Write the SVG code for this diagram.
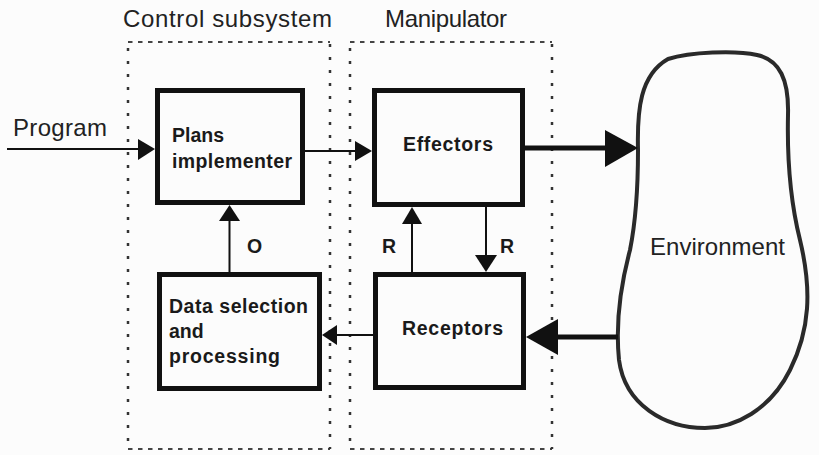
<svg xmlns="http://www.w3.org/2000/svg" width="819" height="455" viewBox="0 0 819 455">
<style>
.title{font-family:"Liberation Sans",Arial,sans-serif;font-size:24px;fill:#222}
.lbl{font-family:"Liberation Sans",Arial,sans-serif;font-size:19.5px;font-weight:bold;fill:#1a1a1a}
.box{fill:none;stroke:#111;stroke-width:5}
.hd{stroke:#444;stroke-width:2;stroke-dasharray:4.5 5.5;fill:none}
.vd{stroke:#333;stroke-width:2.5;stroke-dasharray:3 10;fill:none}
.thin{stroke:#111;stroke-width:2;fill:none}
.thick{stroke:#111;stroke-width:5;fill:none}
.ah{fill:#111}
</style>
<rect width="819" height="455" fill="#fcfcfc"/>
<g id="control-subsystem">
<line class="hd" x1="128" y1="42" x2="330" y2="42"/>
<line class="hd" x1="128" y1="449" x2="330" y2="449"/>
<line class="vd" x1="128" y1="48" x2="128" y2="446"/>
<line class="vd" x1="330" y1="44" x2="330" y2="449"/>
<text class="title" x="123" y="27" textLength="209" lengthAdjust="spacing">Control subsystem</text>
</g>
<g id="manipulator">
<line class="hd" x1="350" y1="42" x2="552" y2="42"/>
<line class="hd" x1="350" y1="449" x2="552" y2="449"/>
<line class="vd" x1="350" y1="48" x2="350" y2="446"/>
<line class="vd" x1="552" y1="44" x2="552" y2="449"/>
<text class="title" x="385" y="27" textLength="122" lengthAdjust="spacing">Manipulator</text>
</g>
<g id="plans-implementer">
<rect class="box" x="157.5" y="90.5" width="145" height="112"/>
<text class="lbl" x="172" y="142">Plans</text>
<text class="lbl" x="172" y="168" textLength="120" lengthAdjust="spacing">implementer</text>
</g>
<g id="effectors">
<rect class="box" x="374.5" y="90.5" width="148" height="114"/>
<text class="lbl" x="403" y="151" textLength="90" lengthAdjust="spacing">Effectors</text>
</g>
<g id="data-selection">
<rect class="box" x="159.5" y="274.5" width="160" height="114"/>
<text class="lbl" x="169" y="313" textLength="139" lengthAdjust="spacing">Data selection</text>
<text class="lbl" x="169" y="338">and</text>
<text class="lbl" x="169" y="363" textLength="111" lengthAdjust="spacing">processing</text>
</g>
<g id="receptors">
<rect class="box" x="375.5" y="274.5" width="148" height="113"/>
<text class="lbl" x="402" y="335" textLength="101" lengthAdjust="spacing">Receptors</text>
</g>
<g id="environment">
<path d="M638,150 C637,110 640,75 668,59 C690,52 735,50 757,55 C780,60 789,80 788,115 C787,160 790,200 800,240 C812,290 810,330 790,370 C770,410 735,428 705,428 C665,428 625,405 619,360 C615,320 622,280 630,250 C636,220 638,190 638,150 Z" fill="none" stroke="#2a2a2a" stroke-width="4"/>
<text class="title" x="650" y="255" textLength="135" lengthAdjust="spacing">Environment</text>
</g>
<g id="connectors">
<text class="title" x="13" y="136" textLength="94" lengthAdjust="spacing">Program</text>
<line class="thin" x1="7" y1="149" x2="140" y2="149"/>
<polygon class="ah" points="138,139 155,149 138,160"/>
<line class="thin" x1="305" y1="151" x2="357" y2="151"/>
<polygon class="ah" points="355,141 372,151 355,161"/>
<line class="thick" x1="525" y1="148" x2="607" y2="148"/>
<polygon class="ah" points="605,130 638,148 605,167"/>
<line class="thick" x1="618" y1="337" x2="556" y2="337"/>
<polygon class="ah" points="558,319 526,337 558,355"/>
<line class="thin" x1="373" y1="335" x2="335" y2="335"/>
<polygon class="ah" points="337,325 322,335 337,345"/>
<line class="thin" x1="229.5" y1="272" x2="229.5" y2="218"/>
<polygon class="ah" points="219,221 229.5,205 240,221"/>
<text class="lbl" x="247" y="253">O</text>
<line class="thin" x1="412" y1="272" x2="412" y2="222"/>
<polygon class="ah" points="402,224 412,207 422,224"/>
<text class="lbl" x="382" y="253">R</text>
<line class="thin" x1="486" y1="207" x2="486" y2="258"/>
<polygon class="ah" points="475,255 486,272 497,255"/>
<text class="lbl" x="500" y="253">R</text>
</g>
</svg>
